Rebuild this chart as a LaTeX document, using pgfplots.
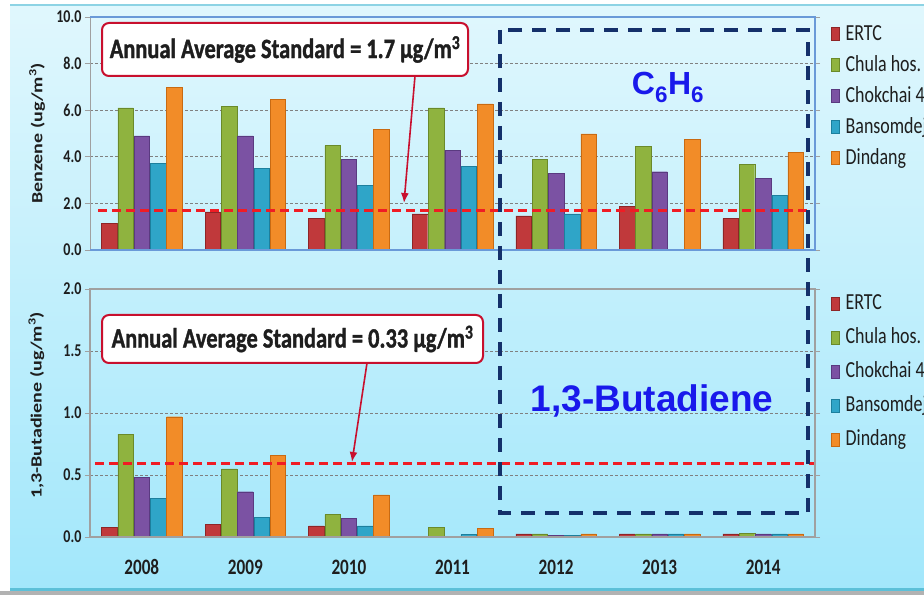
\documentclass[border=0pt]{standalone}
\usepackage{fontspec}
\usepackage{graphicx}
\usepackage{pgfplots}
\pgfplotsset{compat=1.18}
\usetikzlibrary{arrows.meta}
\setmainfont{Carlito}
\newfontfamily\calf[FakeStretch=0.78]{Carlito}
\newfontfamily\calfB[FakeStretch=0.8, BoldFeatures={FakeBold=1.2}]{Carlito}
\newfontfamily\arif{Liberation Sans}
\definecolor{bgtop}{HTML}{E0F7FD}
\definecolor{bgbot}{HTML}{A2E7FB}
\definecolor{bgline}{HTML}{5CC0D8}
\definecolor{cA}{HTML}{C0393B}\definecolor{cAd}{HTML}{8E2527}
\definecolor{cB}{HTML}{8FB33F}\definecolor{cBd}{HTML}{6A8A2A}
\definecolor{cC}{HTML}{7B52A3}\definecolor{cCd}{HTML}{5A3A80}
\definecolor{cD}{HTML}{2FA5C8}\definecolor{cDd}{HTML}{1C7F9D}
\definecolor{cE}{HTML}{F28C28}\definecolor{cEd}{HTML}{C86A12}
\definecolor{frameblue}{HTML}{6A9AD8}
\definecolor{framegray}{HTML}{A0A0A0}
\definecolor{stdred}{HTML}{F01C24}
\definecolor{boxred}{HTML}{C8102E}
\definecolor{navy}{HTML}{14306A}
\definecolor{txtblue}{RGB}{25,25,235}
\definecolor{txt}{HTML}{1E1E1E}
\pgfplotsset{
  mybar/.style={ybar, bar width=0.15, legend image code/.code={\fill[##1] (0pt,-6pt) rectangle (8pt,7pt); \path (14pt,0pt);}},
  common/.style={
    scale only axis, width=725pt,
    xmin=-0.5, xmax=6.5, ymin=0,
    axis line style={draw=none},
    tick align=outside, major tick length=5pt,
    y tick style={framegray, line width=0.8pt},
    ymajorgrids, grid style={densely dashed, gray, line width=0.8pt},
    yticklabel style={font=\calf\bfseries\fontsize{18}{18}\selectfont, text=txt,
      /pgf/number format/.cd, fixed, fixed zerofill, precision=1, assume math mode=true},
    legend cell align=left,
    legend style={draw=none, fill=none, font=\calf\fontsize{23}{23}\selectfont, text=txt,
      nodes={inner sep=0pt, text height=15pt, text depth=4pt}},
  }
}
\begin{document}
\begin{tikzpicture}[x=1pt,y=1pt]
\useasboundingbox (0,0) rectangle (924,595);
\clip (0,0) rectangle (924,595);
\fill[gray!60] (0,0) rectangle (924,4);
\shade[top color=bgtop, bottom color=bgbot] (10,6) rectangle (924,590);
\fill[bgline] (10,4) rectangle (924,7);
\fill[bgline!70] (10,589) rectangle (924,591);

% ---------------- Benzene ----------------
\begin{axis}[common,
  at={(90pt,345pt)}, height=233pt, ymax=10,
  ytick={0,2,...,10}, xtick=\empty,
  ylabel={\scalebox{1}[0.78]{\bfseries\fontsize{20}{20}\selectfont Benzene (ug/m\textsuperscript{3})}},
  ylabel style={at={(axis description cs:-0.073,0.5)}, anchor=center, text=txt},
  legend style={at={(1.018,0.975)}, anchor=north west, row sep=12pt},
  after end axis/.code={
    \draw[framegray, line width=1pt] (rel axis cs:0,0) -- (rel axis cs:0,1);
    \draw[frameblue, line width=1.2pt] (rel axis cs:0,0) -- (rel axis cs:1,0) -- (rel axis cs:1,1) -- (rel axis cs:0,1);
  }]
\addplot[mybar, bar shift=-0.314, fill=cA, draw=cAd] coordinates {(0,1.15) (1,1.64) (2,1.36) (3,1.55) (4,1.46) (5,1.86) (6,1.36)};
\addlegendentry{ERTC}
\addplot[mybar, bar shift=-0.157, fill=cB, draw=cBd] coordinates {(0,6.10) (1,6.18) (2,4.48) (3,6.10) (4,3.89) (5,4.46) (6,3.69)};
\addlegendentry{Chula hos.}
\addplot[mybar, bar shift=0, fill=cC, draw=cCd] coordinates {(0,4.90) (1,4.90) (2,3.90) (3,4.29) (4,3.29) (5,3.36) (6,3.08)};
\addlegendentry{Chokchai 4}
\addplot[mybar, bar shift=0.157, fill=cD, draw=cDd] coordinates {(0,3.72) (1,3.50) (2,2.76) (3,3.58) (4,1.55) (6,2.36)};
\addlegendentry{Bansomdej}
\addplot[mybar, bar shift=0.314, fill=cE, draw=cEd] coordinates {(0,6.97) (1,6.47) (2,5.18) (3,6.27) (4,4.98) (5,4.76) (6,4.19)};
\addlegendentry{Dindang}
\addplot[forget plot, stdred, line width=3pt, dash pattern=on 9pt off 5pt] coordinates {(-0.42,1.7) (6.42,1.7)};
\end{axis}

% ---------------- 1,3-Butadiene ----------------
\begin{axis}[common,
  at={(90pt,58pt)}, height=248pt, ymax=2,
  ytick={0,0.5,...,2},
  xtick={0,...,6}, xticklabels={2008,2009,2010,2011,2012,2013,2014},
  x tick style={draw=none},
  xticklabel style={anchor=center, yshift=-25pt, font=\calf\bfseries\fontsize{22}{22}\selectfont, text=txt},
  extra x ticks={-0.5,0.5,...,6.5}, extra x tick labels={},
  extra x tick style={grid=none, major tick length=6pt, tick style={framegray, line width=0.8pt}},
  ylabel={\scalebox{1}[0.78]{\bfseries\fontsize{20}{20}\selectfont 1,3-Butadiene (ug/m\textsuperscript{3})}},
  ylabel style={at={(axis description cs:-0.074,0.53)}, anchor=center, text=txt},
  legend style={at={(1.018,0.985)}, anchor=north west, row sep=15pt},
  after end axis/.code={
    \draw[framegray, line width=1.2pt] (rel axis cs:0,0) rectangle (rel axis cs:1,1);
  }]
\addplot[mybar, bar shift=-0.314, fill=cA, draw=cAd] coordinates {(0,0.08) (1,0.10) (2,0.09) (3,0.005) (4,0.025) (5,0.025) (6,0.025)};
\addlegendentry{ERTC}
\addplot[mybar, bar shift=-0.157, fill=cB, draw=cBd] coordinates {(0,0.83) (1,0.55) (2,0.18) (3,0.08) (4,0.025) (5,0.025) (6,0.03)};
\addlegendentry{Chula hos.}
\addplot[mybar, bar shift=0, fill=cC, draw=cCd] coordinates {(0,0.48) (1,0.365) (2,0.15) (3,0.005) (4,0.015) (5,0.025) (6,0.025)};
\addlegendentry{Chokchai 4}
\addplot[mybar, bar shift=0.157, fill=cD, draw=cDd] coordinates {(0,0.31) (1,0.16) (2,0.09) (3,0.02) (4,0.015) (5,0.025) (6,0.025)};
\addlegendentry{Bansomdej}
\addplot[mybar, bar shift=0.314, fill=cE, draw=cEd] coordinates {(0,0.97) (1,0.66) (2,0.34) (3,0.07) (4,0.025) (5,0.025) (6,0.025)};
\addlegendentry{Dindang}
\addplot[forget plot, stdred, line width=3pt, dash pattern=on 9pt off 5pt] coordinates {(-0.45,0.595) (6.5,0.595)};
\end{axis}

% annotations
\node[draw=boxred, line width=2pt, fill=white, rounded corners=7pt, minimum width=366pt, minimum height=53pt, text=txt,
  font=\calfB\bfseries\fontsize{28}{28}\selectfont] at (285,545.5) {Annual Average Standard = 1.7 µg/m\textsuperscript{3}};
\draw[boxred, line width=1.6pt, -{Latex[length=10pt,width=8pt]}] (415,519) -- (404,392);
\node[draw=boxred, line width=2pt, fill=white, rounded corners=7pt, minimum width=381pt, minimum height=48pt, text=txt,
  font=\calfB\bfseries\fontsize{28}{28}\selectfont] at (292.5,256) {Annual Average Standard = 0.33 µg/m\textsuperscript{3}};
\draw[boxred, line width=1.6pt, -{Latex[length=10pt,width=8pt]}] (367,232) -- (352,133);

\draw[navy, line width=4pt, dash pattern=on 14pt off 10pt] (500,565) rectangle (808,82);
\node[anchor=base, text=txtblue, font=\arif\bfseries\fontsize{32}{32}\selectfont] at (668,500) {C\textsubscript{6}H\textsubscript{6}};
\node[anchor=base, text=txtblue, font=\arif\bfseries\fontsize{37}{37}\selectfont] at (652,183) {1,3-Butadiene};
\end{tikzpicture}
\end{document}
